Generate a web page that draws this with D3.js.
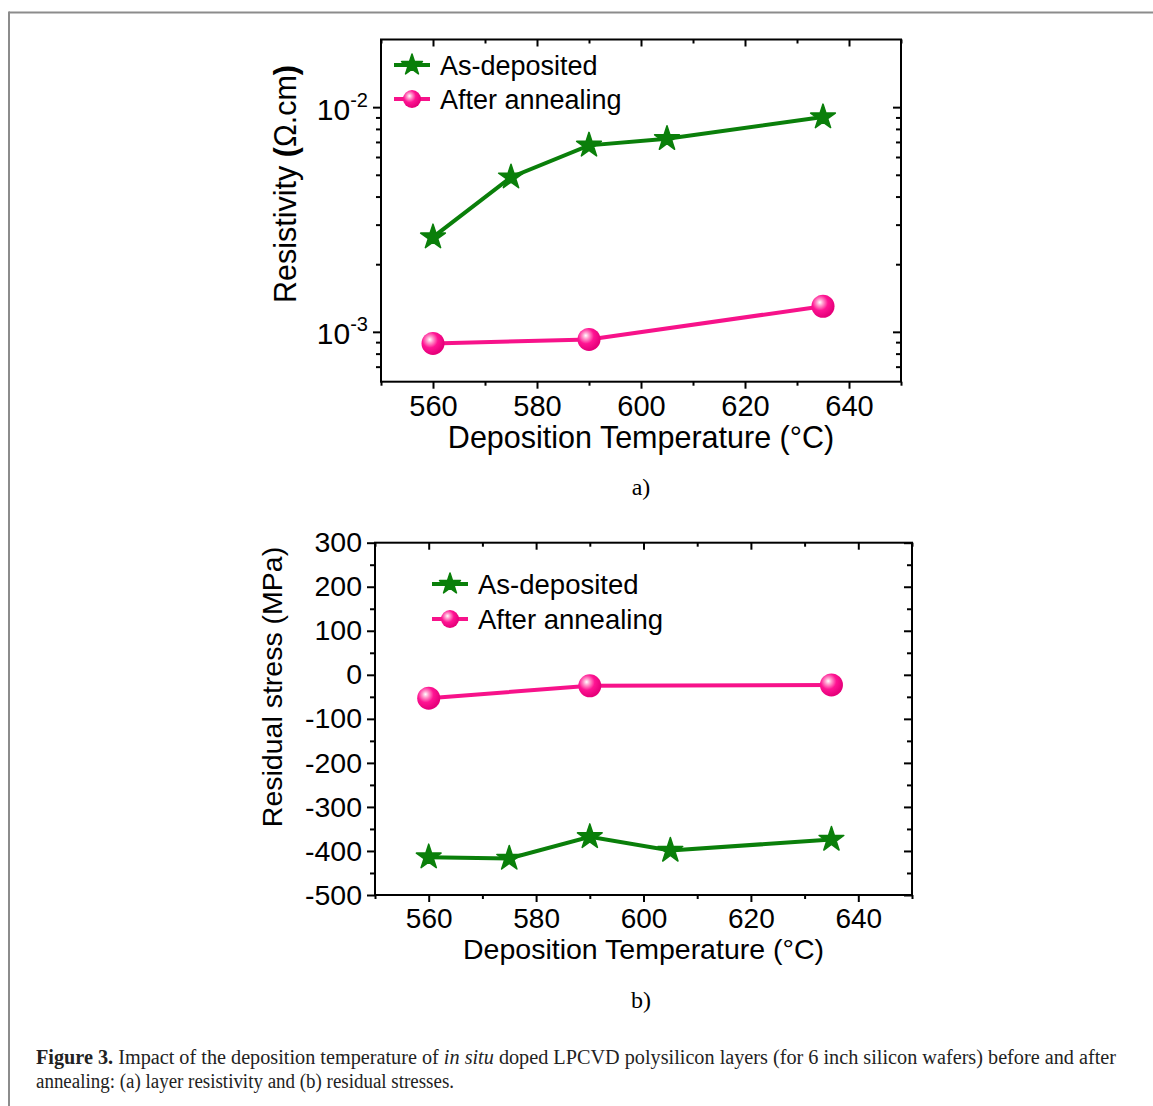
<!DOCTYPE html>
<html><head><meta charset="utf-8">
<script src="https://cdn.jsdelivr.net/npm/d3@7"></script>
<style>
html,body{margin:0;padding:0;background:#fff;}
svg{display:block;}
</style></head>
<body>
<svg id="fig" width="1153" height="1106"></svg>
<script>
// ---------- data ----------
const temps = [560, 575, 590, 605, 635];
const annealTemps = [560, 590, 635];
const resistAsDep = [2.64e-3, 4.88e-3, 6.76e-3, 7.23e-3, 9.03e-3];
const resistAnneal = [8.88e-4, 9.25e-4, 1.30e-3];
const stressAsDep = [-414, -417, -368, -399, -374];
const stressAnneal = [-53, -25, -23];
const xTicks = [560, 580, 600, 620, 640];
const xMinorTicks = [550, 570, 590, 610, 630, 650];
const logMajor = [1e-3, 1e-2];
const logMinor = [7e-4, 8e-4, 9e-4, 2e-3, 3e-3, 4e-3, 5e-3, 6e-3, 7e-3, 8e-3, 9e-3];
const stressTicks = [300, 200, 100, 0, -100, -200, -300, -400, -500];
const stressMinor = [250, 150, 50, -50, -150, -250, -350, -450];
const seriesNames = ["As-deposited", "After annealing"];
const xTitle = "Deposition Temperature (°C)";

const GREEN = "#0a7f0a", PINK = "#f7128a";
const FONT = "'Liberation Sans', Arial, Helvetica, sans-serif";

const svg = d3.select("#fig");
const defs = svg.append("defs");
const grad = defs.append("radialGradient").attr("id", "ball")
  .attr("cx", "38%").attr("cy", "36%").attr("r", "62%").attr("fx", "36%").attr("fy", "33%");
grad.append("stop").attr("offset", "0%").attr("stop-color", "#ffffff");
grad.append("stop").attr("offset", "22%").attr("stop-color", "#ff9ccd");
grad.append("stop").attr("offset", "55%").attr("stop-color", "#ff1493");
grad.append("stop").attr("offset", "100%").attr("stop-color", "#e6007a");

// frame
svg.append("line").attr("x1", 9).attr("x2", 1153).attr("y1", 12.5).attr("y2", 12.5)
  .attr("stroke", "#8c8c8c").attr("stroke-width", 2);
svg.append("line").attr("x1", 9).attr("x2", 9).attr("y1", 11.5).attr("y2", 1106)
  .attr("stroke", "#8c8c8c").attr("stroke-width", 2);

function starPath(R) {
  const ka = 0.8908130915292852;
  return d3.symbol(d3.symbolStar, R * R / ka)();
}

function drawMarkers(g, type, xs, ys, R) {
  if (type === "star") {
    g.selectAll(null).data(xs).join("path")
      .attr("d", starPath(R))
      .attr("transform", (d, i) => `translate(${d},${ys[i]})`)
      .attr("fill", GREEN).attr("stroke", GREEN).attr("stroke-width", 1.5)
      .attr("stroke-linejoin", "round");
  } else {
    g.selectAll(null).data(xs).join("circle")
      .attr("cx", d => d).attr("cy", (d, i) => ys[i]).attr("r", R)
      .attr("fill", "url(#ball)");
  }
}

function styleAxis(g, fs) {
  g.selectAll("path.domain").remove();
  g.selectAll("line").attr("stroke", "#000").attr("stroke-width", 2);
  g.selectAll("text").attr("font-family", FONT).attr("font-size", fs).attr("fill", "#000");
}

function panel(cfg) {
  const x = d3.scaleLinear().domain([550, 650]).range([cfg.left, cfg.right]);
  const y = cfg.y;
  const g = svg.append("g");
  const fs = cfg.fs;

  // bottom axis
  const gb = g.append("g").attr("transform", `translate(0,${cfg.bottom})`)
    .call(d3.axisBottom(x).tickValues(xTicks).tickSize(7).tickPadding(cfg.xPad).tickSizeOuter(0));
  styleAxis(gb, fs);
  const gbm = g.append("g").attr("transform", `translate(0,${cfg.bottom})`)
    .call(d3.axisBottom(x).tickValues(xMinorTicks).tickSize(4).tickFormat("").tickSizeOuter(0));
  styleAxis(gbm, fs);
  // top axis (inward)
  const gt = g.append("g").attr("transform", `translate(0,${cfg.top})`)
    .call(d3.axisTop(x).tickValues(xTicks).tickSize(-7).tickFormat("").tickSizeOuter(0));
  styleAxis(gt, fs);
  const gtm = g.append("g").attr("transform", `translate(0,${cfg.top})`)
    .call(d3.axisTop(x).tickValues(xMinorTicks).tickSize(-4).tickFormat("").tickSizeOuter(0));
  styleAxis(gtm, fs);

  // left axis
  const gl = g.append("g").attr("transform", `translate(${cfg.left},0)`)
    .call(d3.axisLeft(y).tickValues(cfg.yMajor).tickSize(8).tickPadding(cfg.yPad)
      .tickFormat(cfg.yFormat || (d => d)).tickSizeOuter(0));
  styleAxis(gl, cfg.yfs || fs);
  const glm = g.append("g").attr("transform", `translate(${cfg.left},0)`)
    .call(d3.axisLeft(y).tickValues(cfg.yMinor).tickSize(5).tickFormat("").tickSizeOuter(0));
  styleAxis(glm, fs);
  // right axis (inward)
  const gr = g.append("g").attr("transform", `translate(${cfg.right},0)`)
    .call(d3.axisRight(y).tickValues(cfg.yMajor).tickSize(-8).tickFormat("").tickSizeOuter(0));
  styleAxis(gr, fs);
  const grm = g.append("g").attr("transform", `translate(${cfg.right},0)`)
    .call(d3.axisRight(y).tickValues(cfg.yMinor).tickSize(-5).tickFormat("").tickSizeOuter(0));
  styleAxis(grm, fs);

  if (cfg.postY) cfg.postY(gl);

  // box
  g.append("rect").attr("x", cfg.left).attr("y", cfg.top)
    .attr("width", cfg.right - cfg.left).attr("height", cfg.bottom - cfg.top)
    .attr("fill", "none").attr("stroke", "#000").attr("stroke-width", 2);

  // series lines
  const line = d3.line().x(d => x(d[0])).y(d => y(d[1]));
  g.append("path").datum(annealTemps.map((t, i) => [t, cfg.anneal[i]]))
    .attr("d", line).attr("fill", "none").attr("stroke", PINK).attr("stroke-width", 4);
  g.append("path").datum(temps.map((t, i) => [t, cfg.asdep[i]]))
    .attr("d", line).attr("fill", "none").attr("stroke", GREEN).attr("stroke-width", 4);
  drawMarkers(g.append("g"), "circle", annealTemps.map(x), cfg.anneal.map(y), 11.5);
  drawMarkers(g.append("g"), "star", temps.map(x), cfg.asdep.map(y), 13);

  // legend
  const lg = g.append("g");
  const L = cfg.legend;
  [0, 1].forEach(i => {
    const yy = L.y + i * L.dy;
    lg.append("line").attr("x1", L.x - 18).attr("x2", L.x + 18).attr("y1", yy).attr("y2", yy)
      .attr("stroke", i === 0 ? GREEN : PINK).attr("stroke-width", 4);
    drawMarkers(lg.append("g"), i === 0 ? "star" : "circle", [L.x], [yy], i === 0 ? 11 : 9);
    lg.append("text").attr("x", L.x + 28).attr("y", yy + 9.5)
      .attr("font-family", FONT).attr("font-size", L.fs).text(seriesNames[i]);
  });

  // x title
  g.append("text").attr("x", (cfg.left + cfg.right) / 2).attr("y", cfg.xTitleY)
    .attr("text-anchor", "middle").attr("font-family", FONT).attr("font-size", cfg.tfs).text(xTitle);
  // y title
  const yt = g.append("text").attr("transform", `translate(${cfg.yTitleX},${cfg.yTitleCY}) rotate(-90)`)
    .attr("text-anchor", "middle").attr("font-family", FONT).attr("font-size", cfg.tfs);
  cfg.yTitle(yt);
  // panel label
  g.append("text").attr("x", 641).attr("y", cfg.labelY).attr("text-anchor", "middle")
    .attr("font-family", "'Liberation Serif', 'Times New Roman', serif").attr("font-size", 24)
    .text(cfg.label);
}

// ---------- panel a ----------
panel({
  left: 381, right: 901, top: 39.5, bottom: 381.7, fs: 29, tfs: 30.5, yfs: 30,
  y: d3.scaleLog().domain([6e-4, 2e-2]).range([381.7, 39.5]),
  yMajor: logMajor, yMinor: logMinor, xPad: 7, yPad: 4,
  yFormat: d => "",
  postY: gl => {
    gl.selectAll(".tick").each(function (d) {
      const t = d3.select(this).select("text");
      t.text(null).attr("dy", null).attr("y", 12).attr("x", -13);
      t.append("tspan").text("10");
      t.append("tspan").attr("font-size", 20).attr("dy", -13).text(d === 1e-2 ? "-2" : "-3");
    });
  },
  asdep: resistAsDep, anneal: resistAnneal,
  legend: { x: 412, y: 65, dy: 34, fs: 27 },
  xTitleY: 448,
  yTitleX: 296, yTitleCY: 184,
  yTitle: t => {
    t.append("tspan").text("Resistivity ");
    t.append("tspan").attr("font-weight", "bold").text("(");
    t.append("tspan").text("Ω.cm");
    t.append("tspan").attr("font-weight", "bold").text(")");
  },
  label: "a)", labelY: 495
});

// ---------- panel b ----------
panel({
  left: 375, right: 912, top: 542.7, bottom: 895, fs: 28, tfs: 28.5, yfs: 28.5,
  y: d3.scaleLinear().domain([-500, 300]).range([895, 542.7]),
  yMajor: stressTicks, yMinor: stressMinor, xPad: 6, yPad: 5,
  asdep: stressAsDep, anneal: stressAnneal,
  legend: { x: 450, y: 584, dy: 35, fs: 27.5 },
  xTitleY: 959,
  yTitleX: 282, yTitleCY: 687,
  yTitle: t => t.text("Residual stress (MPa)"),
  label: "b)", labelY: 1008
});

// ---------- caption ----------
const cap = svg.append("g").attr("font-family", "'Liberation Serif', 'Times New Roman', serif")
  .attr("font-size", 20).attr("fill", "#222");
const c1 = cap.append("text").attr("x", 36).attr("y", 1064)
  .attr("textLength", 1080).attr("lengthAdjust", "spacingAndGlyphs");
c1.append("tspan").attr("font-weight", "bold").text("Figure 3.");
c1.append("tspan").text(" Impact of the deposition temperature of ");
c1.append("tspan").attr("font-style", "italic").text("in situ");
c1.append("tspan").text(" doped LPCVD polysilicon layers (for 6 inch silicon wafers) before and after");
cap.append("text").attr("x", 36).attr("y", 1088)
  .attr("textLength", 418).attr("lengthAdjust", "spacingAndGlyphs")
  .text("annealing: (a) layer resistivity and (b) residual stresses.");
</script>
</body></html>
